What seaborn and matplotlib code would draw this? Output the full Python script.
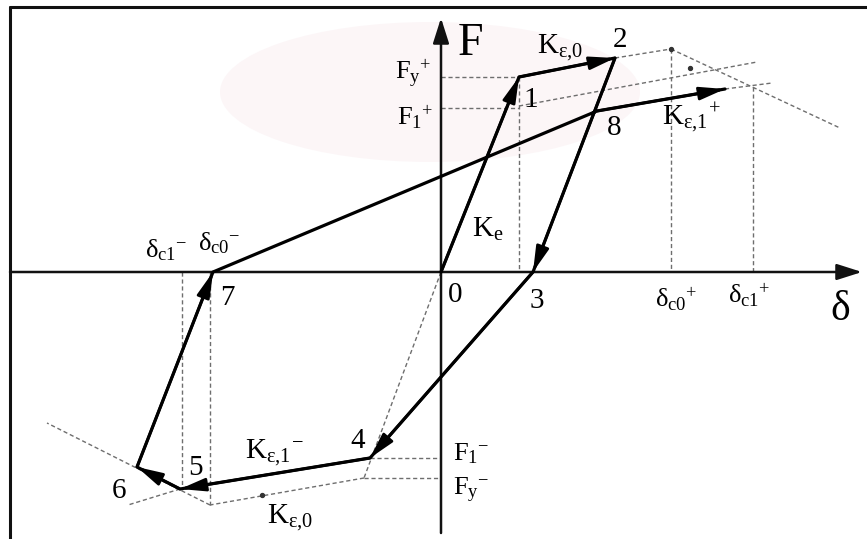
import matplotlib
matplotlib.use("Agg")
import matplotlib.pyplot as plt
import numpy as np
import pandas as pd
import seaborn as sns
from matplotlib.patches import Ellipse
from matplotlib.lines import Line2D

sns.set_theme(style="white")
plt.rcParams["font.family"] = ["Liberation Serif", "DejaVu Serif"]
plt.rcParams["mathtext.fontset"] = "custom"
plt.rcParams["mathtext.rm"] = "Liberation Serif"
plt.rcParams["mathtext.it"] = "Liberation Serif"
plt.rcParams["mathtext.bf"] = "Liberation Serif:bold"

# ---- loading path (delta, F) : points 0..8 and the final unloading tip ----
path_delta = [0, 78, 174, 92, -71, -261, -304, -228, 156, 284]
path_force = [0, 195, 214, 0, -186, -217, -195, 0, 161, 183]
arrow_pairs = [(0, 1), (1, 2), (2, 3), (3, 4), (4, 5), (5, 6), (6, 7), (8, 9)]

# ---- reference lines of the backbone ----
fy_pos = 195
f1_pos = 164
fy_neg = -206
f1_neg = -186
delta_y_pos = 78
delta_y_neg = -77
cap_pos = (230, 223)
cap_neg = (-231, -233)
delta_c0_pos = 230
delta_c1_pos = 312
delta_c0_neg = -231
delta_c1_neg = -259

guide_delta = [
    [0, delta_y_pos],                 # Fy+
    [0, delta_y_pos],                 # F1+
    [delta_y_pos, delta_y_pos],       # vertical at yield
    [174, cap_pos[0]],                # K_e,0 backbone to cap
    [cap_pos[0], 399],                # softening branch +
    [delta_c0_pos, delta_c0_pos],     # delta_c0+
    [delta_y_pos, 316],               # shifted K_e,0 line
    [284, 331],                       # K_e,1 extension
    [delta_c1_pos, delta_c1_pos],     # delta_c1+
    [0, delta_y_neg],                 # elastic line, negative side
    [-71, 0],                         # F1-
    [delta_y_neg, 0],                 # Fy-
    [delta_y_neg, cap_neg[0]],        # K_e,0 backbone -
    [cap_neg[0], -394],               # softening branch -
    [-261, -313],                     # K_e,1 extension -
    [delta_c1_neg, delta_c1_neg],     # delta_c1-
    [delta_c0_neg, delta_c0_neg],     # delta_c0-
]
guide_force = [
    [fy_pos, fy_pos],
    [f1_pos, f1_pos],
    [fy_pos, 0],
    [214, cap_pos[1]],
    [cap_pos[1], 144],
    [cap_pos[1], 0],
    [166, 210],
    [183, 189],
    [185, 0],
    [0, fy_neg],
    [f1_neg, f1_neg],
    [fy_neg, fy_neg],
    [fy_neg, cap_neg[1]],
    [cap_neg[1], -151],
    [-217, -233],
    [0, -217],
    [0, cap_neg[1]],
]
marker_delta = [cap_pos[0], 249, -179]
marker_force = [cap_pos[1], 204, -223]

# axis extents
x_axis = [-431, 421]
y_axis = [-261, 254]

fig = plt.figure(figsize=(8.67, 5.39), dpi=100)
ax = fig.add_axes([0, 0, 1, 1])
ax.set_xlim(-441, 426)
ax.set_ylim(-267, 272)
ax.axis("off")

# faint seal in the background
ax.add_patch(Ellipse((-11, 180), 420, 140, facecolor="#f7e6ea", edgecolor="none",
                     alpha=0.35, zorder=0))

# guide lines
rows = []
for i, (dx, fy) in enumerate(zip(guide_delta, guide_force)):
    for d, f in zip(dx, fy):
        rows.append({"seg": i, "delta": d, "F": f})
gdf = pd.DataFrame(rows)
sns.lineplot(data=gdf, x="delta", y="F", units="seg", estimator=None, sort=False,
             color="#6e6e6e", lw=1.0, linestyle=(0, (3, 2)), ax=ax, legend=False,
             zorder=2)
ax.scatter(marker_delta, marker_force, s=8, color="#333333", zorder=3)

# axes with arrows
axis_arrow = dict(arrowstyle="-|>,head_length=1.1,head_width=0.35", lw=1.8,
                  color="#111111", shrinkA=0, shrinkB=0, mutation_scale=14)
ax.annotate("", xy=(x_axis[1], 0), xytext=(x_axis[0], 0), arrowprops=axis_arrow, zorder=4)
ax.annotate("", xy=(0, y_axis[1]), xytext=(0, y_axis[0]), arrowprops=axis_arrow, zorder=4)

# loading path
pdf = pd.DataFrame({"delta": path_delta, "F": path_force})
sns.lineplot(data=pdf, x="delta", y="F", sort=False, estimator=None, color="black",
             lw=2.3, ax=ax, legend=False, zorder=5)
path_arrow = dict(arrowstyle="-|>,head_length=1.1,head_width=0.28", lw=2.0,
                  color="black", shrinkA=0, shrinkB=0, mutation_scale=14)
for a, b in arrow_pairs:
    ax.annotate("", xy=(path_delta[b], path_force[b]),
                xytext=(path_delta[a], path_force[a]), arrowprops=path_arrow, zorder=6)

# labels: (text, left px, baseline px, size)
labels = [
    ("F", 458, 55, 33),
    ("δ", 830, 320, 30),
    (r"$\mathrm{F_y}^{+}$", 395, 80, 19),
    (r"$\mathrm{F_1}^{+}$", 397, 125, 19),
    (r"$\mathrm{K_{ε{,}0}}$", 537, 53, 21),
    ("2", 613, 47, 21),
    ("1", 523, 107, 21),
    ("8", 607, 135, 21),
    (r"$\mathrm{K_{ε{,}1}}^{+}$", 662, 125, 21),
    (r"$\mathrm{K_e}$", 472, 237, 21),
    ("0", 448, 302, 21),
    ("3", 530, 308, 21),
    (r"$\mathrm{δ_{c0}}^{+}$", 655, 307, 19),
    (r"$\mathrm{δ_{c1}}^{+}$", 728, 303, 19),
    (r"$\mathrm{δ_{c1}}^{-}$", 145, 257, 19),
    (r"$\mathrm{δ_{c0}}^{-}$", 198, 250, 19),
    ("7", 220, 305, 21),
    ("4", 350, 448, 21),
    ("5", 188, 475, 21),
    (r"$\mathrm{K_{ε{,}1}}^{-}$", 245, 458, 21),
    ("6", 112, 498, 21),
    (r"$\mathrm{K_{ε{,}0}}$", 267, 523, 21),
    (r"$\mathrm{F_1}^{-}$", 453, 460, 19),
    (r"$\mathrm{F_y}^{-}$", 453, 495, 19),
]
for txt, px, py, size in labels:
    ax.text(px - 441, 272 - py, txt, fontsize=size, ha="left", va="baseline",
            color="black", zorder=7)

# frame on top and left
fig.add_artist(Line2D([10 / 867, 1], [1 - 7 / 539] * 2, transform=fig.transFigure,
                      color="#111111", lw=2.2))
fig.add_artist(Line2D([10 / 867] * 2, [0, 1 - 7 / 539], transform=fig.transFigure,
                      color="#111111", lw=2.2))

fig.savefig("out.png", dpi=100, facecolor="white")
